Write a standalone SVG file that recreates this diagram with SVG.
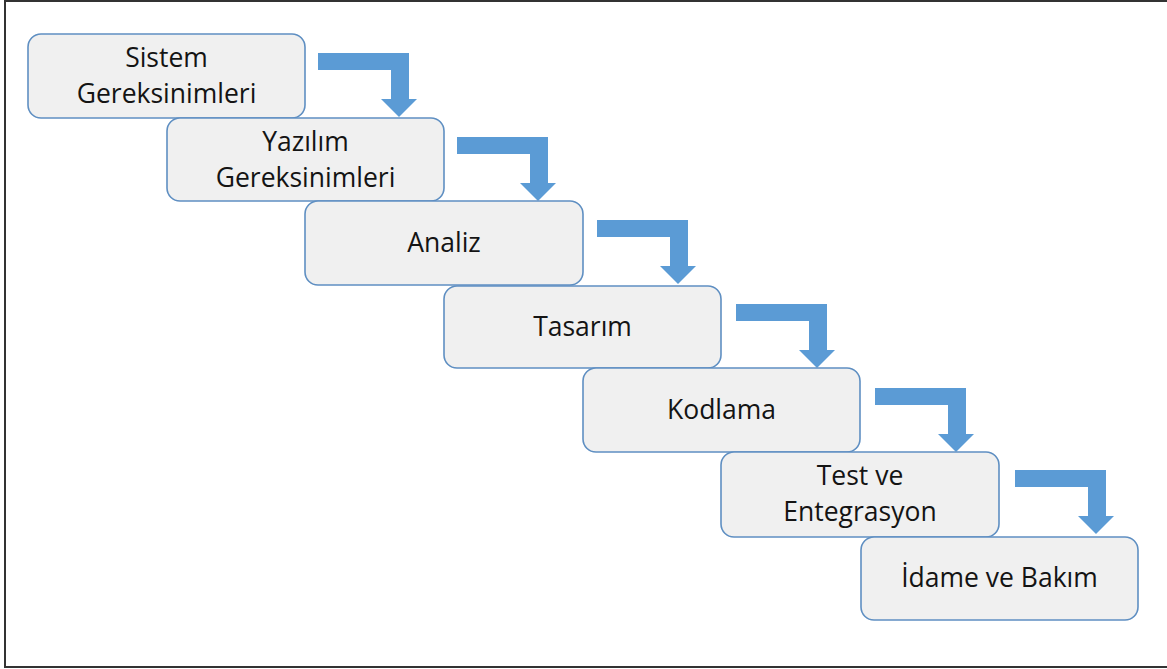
<svg xmlns="http://www.w3.org/2000/svg" width="1167" height="669" viewBox="0 0 1167 669">
  <defs>
    <style>
      .box { fill: #F0F0F0; stroke: #5F8FC2; stroke-width: 1.6; }
      .lbl { font-family: "Open Sans", "Liberation Sans", sans-serif; font-size: 26.5px; fill: #141414; text-anchor: middle; }
      .flow { fill: #5B9BD5; }
    </style>
    <!-- bent arrow: right along the top, then down into the next step -->
    <path id="bend" d="M0,0 H91 V46 H99 L81,64 L63,46 H73 V17 H0 Z"/>
  </defs>

  <rect x="5" y="1" width="1170" height="666" fill="#FFFFFF" stroke="#333333" stroke-width="2"/>

  <g id="connectors" class="flow">
    <use href="#bend" x="318" y="53"/>
    <use href="#bend" x="457" y="137"/>
    <use href="#bend" x="597" y="220"/>
    <use href="#bend" x="736" y="304"/>
    <use href="#bend" x="875" y="388"/>
    <use href="#bend" x="1015" y="470"/>
  </g>

  <g id="sistem-gereksinimleri">
    <rect class="box" x="28" y="34" width="277" height="84" rx="13"/>
    <text class="lbl" x="166.5" y="67">Sistem</text>
    <text class="lbl" x="166.5" y="103">Gereksinimleri</text>
  </g>
  <g id="yazilim-gereksinimleri">
    <rect class="box" x="167" y="118" width="277" height="83" rx="13"/>
    <text class="lbl" x="305.5" y="151">Yazılım</text>
    <text class="lbl" x="305.5" y="187">Gereksinimleri</text>
  </g>
  <g id="analiz">
    <rect class="box" x="305" y="201" width="278" height="84" rx="13"/>
    <text class="lbl" x="444" y="252">Analiz</text>
  </g>
  <g id="tasarim">
    <rect class="box" x="444" y="286" width="277" height="82" rx="13"/>
    <text class="lbl" x="582.5" y="336">Tasarım</text>
  </g>
  <g id="kodlama">
    <rect class="box" x="583" y="368" width="277" height="84" rx="13"/>
    <text class="lbl" x="721.5" y="419">Kodlama</text>
  </g>
  <g id="test-entegrasyon">
    <rect class="box" x="721" y="452" width="278" height="85" rx="13"/>
    <text class="lbl" x="860" y="485">Test ve</text>
    <text class="lbl" x="860" y="521">Entegrasyon</text>
  </g>
  <g id="idame-bakim">
    <rect class="box" x="861" y="537" width="277" height="83" rx="13"/>
    <text class="lbl" x="999.5" y="587">İdame ve Bakım</text>
  </g>
</svg>
